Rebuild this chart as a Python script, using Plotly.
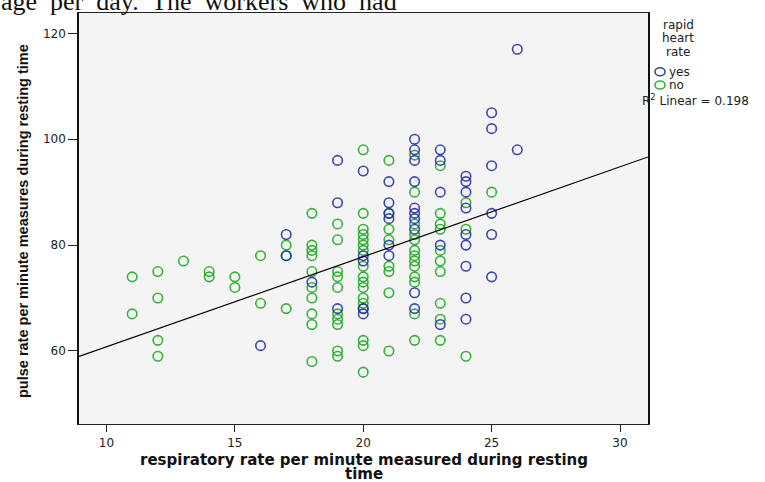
import plotly.graph_objects as go

# ---------------- data ----------------
resp_rate_ticks = [10, 15, 20, 25, 30]
pulse_ticks = [60, 80, 100, 120]

# pulse values per respiratory rate, rapid heart rate = yes
pulse_yes = {
    16: [61],
    17: [82, 78],
    18: [73],
    19: [96, 88, 68],
    20: [94, 78, 77, 68, 67],
    21: [92, 88, 86, 85, 80, 78],
    22: [100, 98, 96, 92, 87, 86, 85, 83, 71, 68],
    23: [98, 96, 90, 80, 65],
    24: [93, 92, 90, 87, 82, 80, 76, 70, 66],
    25: [105, 102, 95, 86, 82, 74],
    26: [117, 98],
}
# pulse values per respiratory rate, rapid heart rate = no
pulse_no = {
    11: [74, 67],
    12: [75, 70, 62, 59],
    13: [77],
    14: [75, 74],
    15: [74, 72],
    16: [78, 69],
    17: [80, 78, 68],
    18: [86, 80, 79, 78, 75, 72, 70, 67, 65, 58],
    19: [84, 81, 75, 74, 72, 67, 66, 65, 60, 59],
    20: [98, 86, 83, 82, 81, 80, 79, 76, 74, 73, 72, 70, 69, 68, 62, 61, 56],
    21: [96, 86, 83, 81, 76, 75, 71, 60],
    22: [97, 90, 84, 82, 81, 79, 78, 77, 76, 74, 73, 67, 62],
    23: [95, 86, 84, 83, 79, 77, 75, 69, 66, 62],
    24: [88, 83, 59],
    25: [90],
}

fit_intercept = 43.8
fit_slope = 1.70
r2_linear = 0.198

x_range = [8.93, 31.09]
y_range = [46.2, 123.85]

# ---------------- styling ----------------
W, H = 765, 482
ML, MR, MT, MB = 79, 117, 13, 58
PW, PH = W - ML - MR, H - MT - MB

BLUE = "rgba(28,40,165,0.85)"
GREEN = "rgba(20,165,25,0.85)"


def px(xp):
    return (xp - ML) / PW


def py(yp):
    return (H - MB - yp) / PH


def flatten(d):
    xs, ys = [], []
    for k, vals in d.items():
        for v in vals:
            xs.append(k)
            ys.append(v)
    return xs, ys


fig = go.Figure()

yx, yy = flatten(pulse_yes)
nx, ny = flatten(pulse_no)

fig.add_trace(go.Scatter(
    x=nx, y=ny, mode="markers", name="no", showlegend=False,
    marker=dict(symbol="circle-open", size=9.5, color=GREEN, line=dict(width=1.6)),
))
fig.add_trace(go.Scatter(
    x=yx, y=yy, mode="markers", name="yes", showlegend=False,
    marker=dict(symbol="circle-open", size=9.5, color=BLUE, line=dict(width=1.6)),
))

fit_x = x_range
fit_y = [fit_intercept + fit_slope * v for v in fit_x]
fig.add_trace(go.Scatter(
    x=fit_x, y=fit_y, mode="lines", showlegend=False,
    line=dict(color="black", width=1.2),
))

tick_font = dict(family="DejaVu Sans, Arial, sans-serif", size=12, color="#222")

fig.update_xaxes(
    range=x_range, tickvals=resp_rate_ticks, ticktext=[str(t) for t in resp_rate_ticks],
    showgrid=False, zeroline=False, showline=True, linecolor="#222", linewidth=1.2,
    mirror=True, ticks="outside", ticklen=7, tickcolor="#222", tickwidth=1.2,
    tickfont=tick_font,
)
fig.update_yaxes(
    range=y_range, tickvals=pulse_ticks, ticktext=[str(t) for t in pulse_ticks],
    showgrid=False, zeroline=False, showline=True, linecolor="#111", linewidth=1.5,
    mirror=True, ticks="outside", ticklen=9, tickcolor="#222", tickwidth=1.2,
    tickfont=tick_font,
)

ann = []
# cut-off document text at the top
ann.append(dict(
    text="age&nbsp; per&nbsp; day.&nbsp; The&nbsp; workers&nbsp; who&nbsp; had",
    x=px(-1), y=py(2), xref="paper", yref="paper", xanchor="left", yanchor="middle",
    showarrow=False, font=dict(family="Liberation Serif, Times New Roman, serif", size=26, color="#111"),
))
# axis titles
title_font = dict(family="DejaVu Sans, Verdana, sans-serif", size=15, color="#111")
ann.append(dict(
    text="<b>respiratory rate per minute measured during resting</b>",
    x=0.5, y=py(459.5), xref="paper", yref="paper", xanchor="center", yanchor="middle",
    showarrow=False, font=title_font,
))
ann.append(dict(
    text="<b>time</b>",
    x=0.5, y=py(474.5), xref="paper", yref="paper", xanchor="center", yanchor="middle",
    showarrow=False, font=title_font,
))
ann.append(dict(
    text="<b>pulse rate per minute measures during resting time</b>",
    x=px(23), y=py(221), xref="paper", yref="paper", xanchor="center", yanchor="middle",
    textangle=-90, showarrow=False,
    font=dict(family="Liberation Sans, Arial, sans-serif", size=14.5, color="#111"),
))
# legend
leg_font = dict(family="DejaVu Sans, Arial, sans-serif", size=12, color="#222")
for i, word in enumerate(["rapid", "heart", "rate"]):
    ann.append(dict(text=word, x=px(678), y=py(25 + 13.5 * i), xref="paper", yref="paper",
                    xanchor="center", yanchor="middle", showarrow=False, font=leg_font))
ann.append(dict(text="yes", x=px(667), y=py(71.7), xref="paper", yref="paper",
                xanchor="left", yanchor="middle", showarrow=False, font=leg_font))
ann.append(dict(text="no", x=px(667), y=py(85), xref="paper", yref="paper",
                xanchor="left", yanchor="middle", showarrow=False, font=leg_font))
ann.append(dict(text=f"R<sup>2</sup> Linear = {r2_linear:.3f}", x=px(640), y=py(100),
                xref="paper", yref="paper", xanchor="left", yanchor="middle",
                showarrow=False, font=leg_font))

shapes = []
for cy, col in [(71.7, BLUE), (85, GREEN)]:
    shapes.append(dict(type="circle", xref="paper", yref="paper",
                       x0=px(655), x1=px(665), y0=py(cy + 4), y1=py(cy - 4),
                       line=dict(color=col, width=1.6)))

fig.update_layout(
    width=W, height=H,
    margin=dict(l=ML, r=MR, t=MT, b=MB),
    paper_bgcolor="white", plot_bgcolor="#f4f4f4",
    annotations=ann, shapes=shapes,
    showlegend=False,
)

fig.write_html("out.html", config={"displayModeBar": False},
               post_script="document.body.style.margin='0';")
